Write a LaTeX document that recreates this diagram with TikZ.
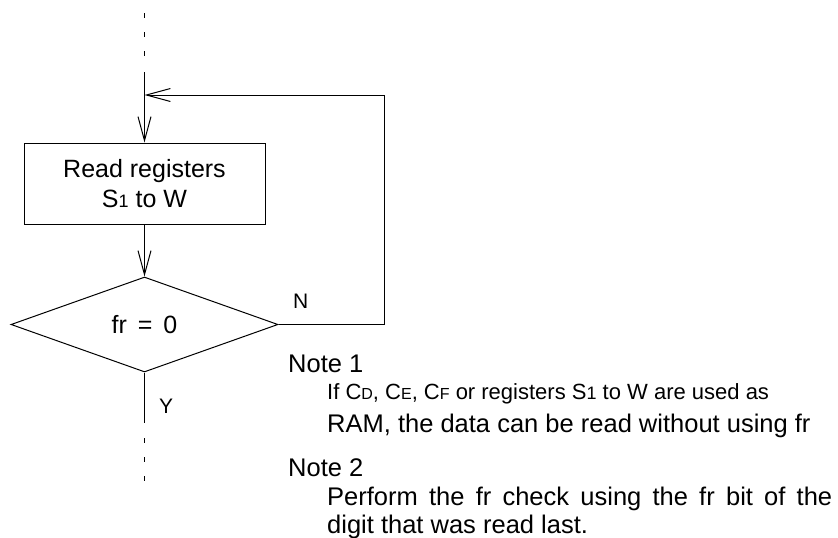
\documentclass[tikz,border=0pt]{standalone}
\usepackage{fontspec}
\setmainfont{Liberation Sans}
\usetikzlibrary{arrows.meta,shapes.geometric}
\newcommand\smallletter[1]{{\fontsize{16}{16}\selectfont #1}}
\newcommand\smallone[1]{{\fontsize{18}{18}\selectfont #1}}
\begin{document}
\begin{tikzpicture}[x=1pt,y=1pt,
  line/.style={line width=1pt, draw=black},
  arr/.style={line, -{Straight Barb[length=24pt,width=13pt]}},
  dashline/.style={line, dash pattern=on 5pt off 14pt},
  big/.style={font=\fontsize{25}{30}\selectfont},
  label/.style={font=\fontsize{21}{25}\selectfont, inner sep=0pt},
  notetext/.style={font=\fontsize{25.5}{30}\selectfont, inner sep=0pt, anchor=base west},
  smalltext/.style={font=\fontsize{22}{26}\selectfont, inner sep=0pt, anchor=base west}]
\useasboundingbox (0,0) rectangle (838,-538);

% nodes
\node[line, big, rectangle, minimum width=241pt, minimum height=81pt, inner sep=0pt, align=center]
  (read) at (144.5,-183.5) {Read registers\\S\smallone{1} to W};
\node[line, big, diamond, minimum width=267pt, minimum height=95pt, inner sep=0pt]
  (dec) at (144.5,-324.5) {fr\hspace{4pt} =\hspace{4pt} 0};

\coordinate (topA) at (144.5,-13);
\coordinate (topB) at (144.5,-56);
\coordinate (topC) at (144.5,-72);
\coordinate (merge) at (144.5,-95);
\coordinate (loopR) at (384,-95);
\coordinate (loopB) at (384,-324.5);
\coordinate (botA) at (144.5,-423);
\coordinate (botB) at (144.5,-438);
\coordinate (botC) at (144.5,-484);

% connectors
\draw[dashline] (topA) -- (topB);
\draw[line] (topC) -- (merge);
\draw[arr] (merge) -- (read.north);
\draw[arr] (read.south) -- (dec.north);
\draw[arr] (dec.east) -- (loopB) -- (loopR) -- (merge);
\draw[line] (dec.south) -- (botA);
\draw[dashline] (botB) -- (botC);

% labels
\node[label, anchor=base west] (N) at (293,-308) {N};
\node[label, anchor=base west] (Y) at (159,-413) {Y};

% notes
\node[notetext] (note1) at (288,-372) {Note 1};
\node[smalltext] (note1a) at (327,-399) {If C\smallletter{D}, C\smallletter{E}, C\smallletter{F} or registers S\smallone{1} to W are used as};
\node[notetext] (note1b) at (327,-432) {RAM, the data can be read without using fr};
\node[notetext] (note2) at (288,-476) {Note 2};
\node[notetext] (note2a) at (327,-505) {\makebox[505pt][l]{Perform\hfill the\hfill fr\hfill check\hfill using\hfill the\hfill fr\hfill bit\hfill of\hfill the}};
\node[notetext] (note2b) at (327,-533) {digit that was read last.};
\end{tikzpicture}
\end{document}
